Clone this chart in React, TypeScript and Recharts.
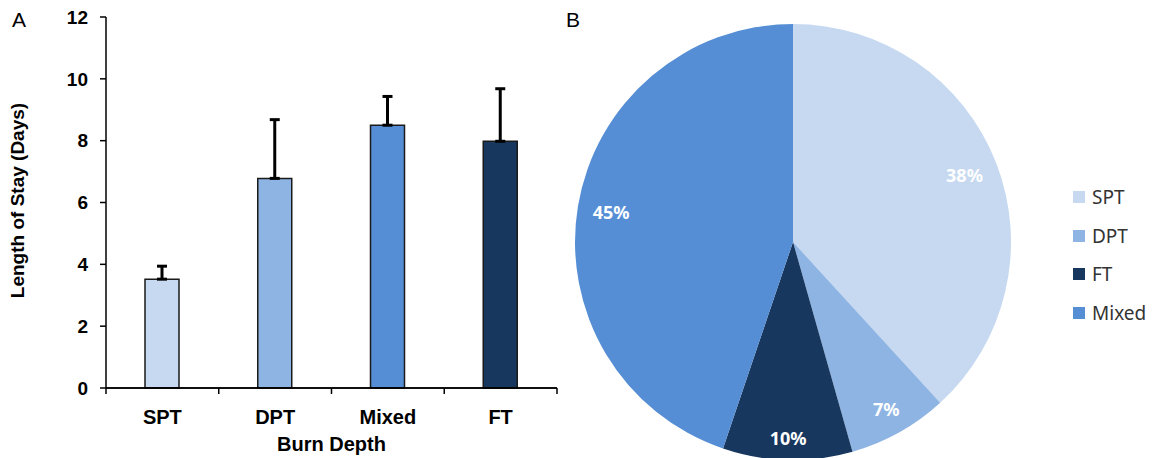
import React from 'react';
import {
  BarChart,
  Bar,
  Cell,
  XAxis,
  YAxis,
  ErrorBar,
  PieChart,
  Pie,
  Legend,
} from 'recharts';

// Panel A: length of stay by burn depth
const depthCategories = ['SPT', 'DPT', 'Mixed', 'FT'];
const stayMeans = [3.52, 6.78, 8.5, 7.98];
const stayErrors = [0.42, 1.9, 0.93, 1.7];
const yTicks = [0, 2, 4, 6, 8, 10, 12];

// Panel B: share of patients by burn depth (labels show rounded %)
const pieLabels = ['SPT', 'DPT', 'FT', 'Mixed'];
const pieShares = [38.2, 7.4, 9.6, 44.8];

const depthColors: Record<string, string> = {
  SPT: '#C6D9F1',
  DPT: '#8EB4E3',
  Mixed: '#558ED5',
  FT: '#17375E',
};

const barData = depthCategories.map((name, i) => ({
  name,
  mean: stayMeans[i],
  err: [0, stayErrors[i]],
}));

const pieData = pieLabels.map((name, i) => ({ name, value: pieShares[i] }));

const boldArial = { fontFamily: '"Liberation Sans", Arial, sans-serif', fontWeight: 700, fontSize: 19, fill: '#000' };
const boldArialX = { ...boldArial, fontSize: 20 };

const TICK_MARGIN = 22;

// category label + tick marks at the band edges (Excel style)
const CategoryTick = (props: any) => {
  const { x, y, payload, index, visibleTicksCount } = props;
  const axisY = y - TICK_MARGIN;
  const half = payload.offset || 0;
  const isLast = index === visibleTicksCount - 1;
  return (
    <g>
      <rect x={x - half} y={axisY - 0.75} width={half * 2} height={1.5} fill="#000" />
      <rect x={x - half - 0.75} y={axisY} width={1.5} height={6} fill="#000" />
      {isLast && <rect x={x + half - 0.75} y={axisY} width={1.5} height={6} fill="#000" />}
      <text x={x} y={y} dy="0.71em" textAnchor="middle" style={boldArialX}>
        {payload.value}
      </text>
    </g>
  );
};

const RADIAN = Math.PI / 180;

// place label like "inside end": its box stays a fixed gap inside the rim
const renderPieLabel = (props: any) => {
  const { cx, cy, midAngle, outerRadius, percent } = props;
  const text = `${Math.round(percent * 100)}%`;
  const ux = Math.cos(-midAngle * RADIAN);
  const uy = Math.sin(-midAngle * RADIAN);
  const w = text.length * 10.5 + 6;
  const h = 14;
  const r = outerRadius - 14 - (Math.abs(ux) * w) / 2 - (Math.abs(uy) * h) / 2;
  return (
    <text
      x={cx + r * ux}
      y={cy + r * uy}
      fill="#fff"
      textAnchor="middle"
      dominantBaseline="central"
      style={{ fontFamily: '"Noto Sans", sans-serif', fontWeight: 700, fontSize: 18 }}
    >
      {text}
    </text>
  );
};

const renderLegend = () => (
  <div style={{ display: 'flex', flexDirection: 'column' }}>
    {pieData.map((d) => (
      <div key={d.name} style={{ display: 'flex', alignItems: 'center', height: 38.5 }}>
        <span style={{ width: 12, height: 12, background: depthColors[d.name], display: 'inline-block', marginRight: 7 }} />
        <span style={{ fontFamily: '"Noto Sans", sans-serif', fontSize: 19, color: '#333' }}>{d.name}</span>
      </div>
    ))}
  </div>
);

const panelLetter: React.CSSProperties = {
  position: 'absolute',
  top: 10,
  fontFamily: '"Liberation Sans", Arial, sans-serif',
  fontSize: 21,
  lineHeight: '20px',
  color: '#000',
};

export default function App() {
  return (
    <div style={{ position: 'absolute', left: 0, top: 0, width: 1158, height: 458, background: '#fff', overflow: 'hidden' }}>
      <div style={{ position: 'absolute', left: 560, top: 0, width: 598, height: 458, overflow: 'hidden' }}>
        <PieChart width={598} height={458} margin={{ top: 0, right: 0, bottom: 0, left: 0 }}>
          <Pie
            data={pieData}
            dataKey="value"
            nameKey="name"
            cx={233}
            cy={242}
            outerRadius={218}
            startAngle={90}
            endAngle={-270}
            stroke="none"
            labelLine={false}
            label={renderPieLabel}
            isAnimationActive={false}
          >
            {pieData.map((d) => (
              <Cell key={d.name} fill={depthColors[d.name]} />
            ))}
          </Pie>
          <Legend
            layout="vertical"
            align="right"
            verticalAlign="top"
            content={renderLegend}
            wrapperStyle={{ left: 513, top: 178, width: 85 }}
          />
        </PieChart>
      </div>

      <div style={{ position: 'absolute', left: 0, top: 0, width: 560, height: 458, zIndex: 2 }}>
        <BarChart width={560} height={458} data={barData} margin={{ top: 17, right: 3, bottom: 0, left: 0 }}>
          <XAxis
            dataKey="name"
            height={70}
            axisLine={{ stroke: '#000', strokeWidth: 1.5 }}
            tickLine={false}
            tickSize={0}
            tickMargin={TICK_MARGIN}
            tick={<CategoryTick />}
            label={{ value: 'Burn Depth', position: 'insideBottom', offset: 7, style: boldArialX }}
          />
          <YAxis
            domain={[0, 12]}
            ticks={yTicks}
            width={106}
            tickSize={6}
            tickMargin={12}
            tick={boldArial}
            axisLine={{ stroke: '#000', strokeWidth: 1.5 }}
            tickLine={{ stroke: '#000', strokeWidth: 1.5 }}
            label={{
              content: (p: any) => (
                <text
                  x={24}
                  y={p.viewBox.y + p.viewBox.height / 2 - 2}
                  textAnchor="middle"
                  transform={`rotate(-90, 24, ${p.viewBox.y + p.viewBox.height / 2 - 2})`}
                  style={boldArial}
                >
                  Length of Stay (Days)
                </text>
              ),
            }}
          />
          <Bar
            dataKey="mean"
            barSize={34}
            stroke="#1a1a1a"
            strokeWidth={1.5}
            isAnimationActive={false}
          >
            {barData.map((d) => (
              <Cell key={d.name} fill={depthColors[d.name]} />
            ))}
            <ErrorBar dataKey="err" width={5} stroke="#000" strokeWidth={3} direction="y" />
          </Bar>
        </BarChart>
      </div>

      <div style={{ ...panelLetter, left: 12, zIndex: 3 }}>A</div>
      <div style={{ ...panelLetter, left: 566, zIndex: 3 }}>B</div>
    </div>
  );
}
